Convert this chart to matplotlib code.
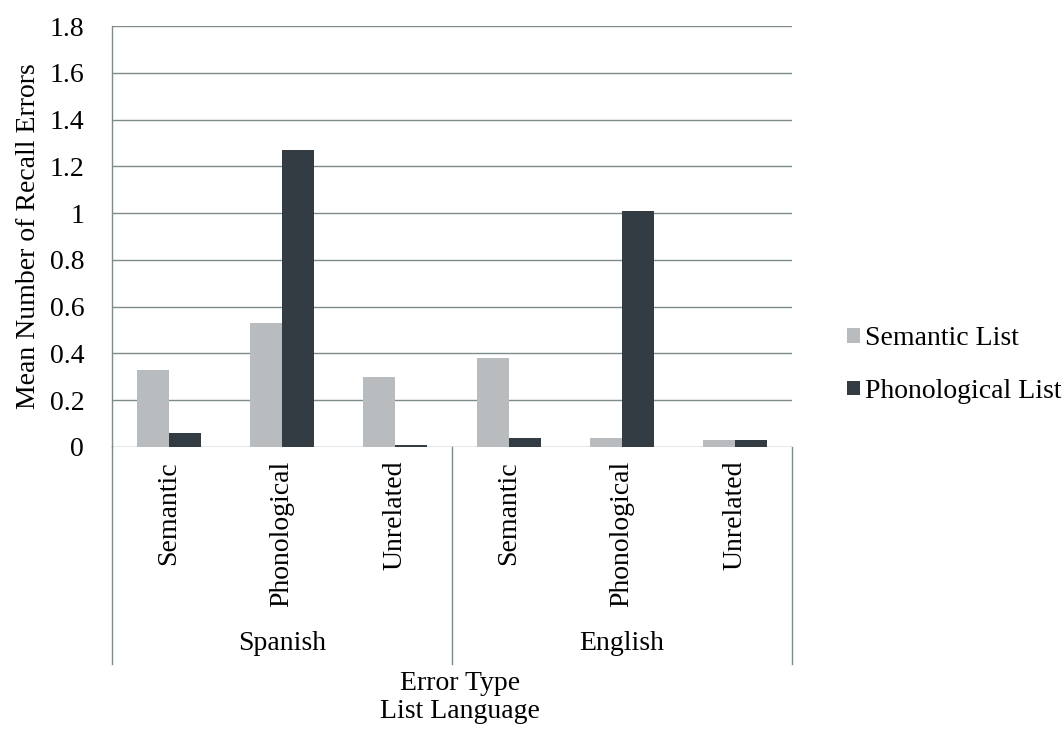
import matplotlib
matplotlib.use("Agg")
import matplotlib.pyplot as plt
from matplotlib.patches import Patch
import numpy as np

plt.rcParams['font.family'] = ['Liberation Serif', 'DejaVu Serif']

# mean recall errors per error type, grouped by list language
languages = ['Spanish', 'English']
error_types = ['Semantic', 'Phonological', 'Unrelated']
semantic_list = [0.33, 0.53, 0.30, 0.38, 0.04, 0.03]
phonological_list = [0.06, 1.27, 0.01, 0.04, 1.01, 0.03]
y_ticks = [0, 0.2, 0.4, 0.6, 0.8, 1, 1.2, 1.4, 1.6, 1.8]
y_tick_labels = ['0', '0.2', '0.4', '0.6', '0.8', '1', '1.2', '1.4', '1.6', '1.8']

light = '#b9bcbf'
dark = '#323c42'
line_col = '#7d8b8b'
fs = 20

fig = plt.figure(figsize=(10.64, 7.36), dpi=100)
ax = fig.add_axes([112 / 1064, 1 - 447 / 736, 680 / 1064, 421 / 736])

n = len(semantic_list)
x = np.arange(n) + 0.5
w = 0.283
ax.bar(x - w / 2, semantic_list, width=w, color=light, zorder=3)
ax.bar(x + w / 2, phonological_list, width=w, color=dark, zorder=3)

ax.set_xlim(0, n)
ax.set_ylim(0, 1.8)
ax.set_yticks(y_ticks)
ax.set_yticklabels(y_tick_labels, fontsize=fs)
ax.yaxis.grid(True, color=line_col, linewidth=1.0, zorder=0)
ax.tick_params(axis='y', length=0, pad=20)

ax.set_xticks(x)
ax.set_xticklabels(error_types * len(languages), rotation=90, fontsize=fs)
ax.tick_params(axis='x', length=0, pad=10)

for s in ['top', 'right', 'bottom']:
    ax.spines[s].set_visible(False)
ax.spines['left'].set_color(line_col)
ax.spines['left'].set_linewidth(1.0)

ax.set_ylabel('Mean Number of Recall Errors', fontsize=fs)
ax.yaxis.set_label_coords(-0.105, 0.5)

# multi-level category box below the plot
box_bottom = -(664 - 447) / 421
xt = ax.get_xaxis_transform()
for xv in [0, 3, 6]:
    ax.plot([xv, xv], [0, box_bottom], transform=xt, color=line_col,
            linewidth=1.0, clip_on=False)
for i, lang in enumerate(languages):
    ax.text(1.5 + 3 * i, -(644 - 447) / 421, lang, transform=xt,
            ha='center', va='center', fontsize=fs)

fig.text(460 / 1064, 1 - 683 / 736, 'Error Type', ha='center', va='center', fontsize=fs)
fig.text(460 / 1064, 1 - 712 / 736, 'List Language', ha='center', va='center', fontsize=fs)

handles = [Patch(facecolor=light, label='Semantic List'),
           Patch(facecolor=dark, label='Phonological List')]
fig.legend(handles=handles, loc='center left',
           bbox_to_anchor=(847 / 1064, 1 - 365 / 736), frameon=False,
           fontsize=fs, handlelength=0.45, handleheight=0.45,
           handletextpad=0.2, labelspacing=1.0, borderpad=0, borderaxespad=0)

fig.savefig('out.png', dpi=100)
